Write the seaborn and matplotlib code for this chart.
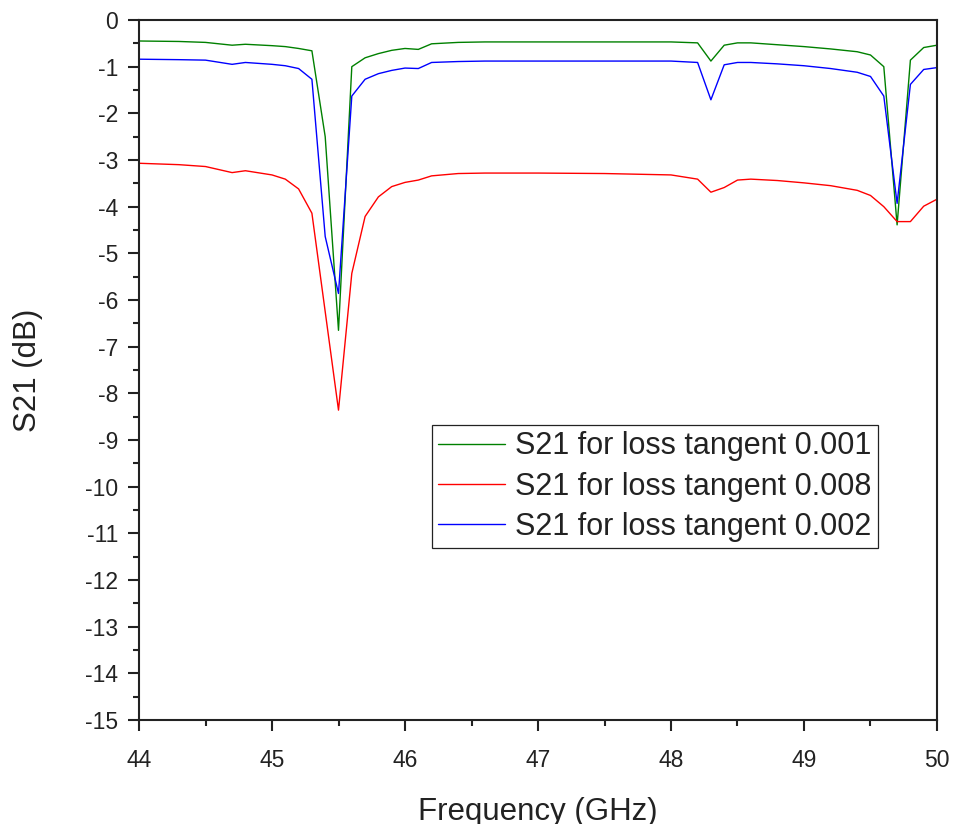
import matplotlib
matplotlib.use("Agg")
import matplotlib.pyplot as plt
from matplotlib.ticker import MultipleLocator
import seaborn as sns

# Frequency sample points (GHz)
freq = [44.0, 44.3, 44.5, 44.7, 44.8, 45.0, 45.1, 45.2, 45.3, 45.4,
        45.5, 45.6, 45.7, 45.8, 45.9, 46.0, 46.1, 46.2, 46.4, 46.6,
        47.0, 47.5, 48.0, 48.2, 48.3, 48.4, 48.5, 48.6, 48.8, 49.0,
        49.2, 49.4, 49.5, 49.6, 49.7, 49.8, 49.9, 50.0]

# S21 (dB) for each dielectric loss tangent
s21_tan_0001 = [-0.45, -0.46, -0.48, -0.54, -0.52, -0.55, -0.57, -0.61, -0.66, -2.50,
                -6.65, -1.00, -0.81, -0.72, -0.65, -0.61, -0.63, -0.51, -0.48, -0.47,
                -0.47, -0.47, -0.47, -0.49, -0.88, -0.54, -0.49, -0.49, -0.53, -0.57,
                -0.62, -0.68, -0.75, -1.00, -4.39, -0.86, -0.59, -0.54]

s21_tan_0008 = [-3.07, -3.10, -3.14, -3.27, -3.23, -3.32, -3.41, -3.62, -4.14, -6.25,
                -8.36, -5.43, -4.21, -3.79, -3.57, -3.48, -3.43, -3.34, -3.29, -3.28,
                -3.28, -3.29, -3.32, -3.41, -3.69, -3.59, -3.43, -3.41, -3.44, -3.49,
                -3.55, -3.65, -3.76, -4.00, -4.32, -4.32, -3.99, -3.84]

s21_tan_0002 = [-0.84, -0.85, -0.86, -0.95, -0.91, -0.95, -0.98, -1.04, -1.27, -4.64,
                -5.86, -1.63, -1.27, -1.15, -1.08, -1.03, -1.04, -0.91, -0.89, -0.88,
                -0.88, -0.88, -0.88, -0.91, -1.71, -0.96, -0.91, -0.91, -0.94, -0.98,
                -1.04, -1.12, -1.21, -1.63, -3.93, -1.38, -1.06, -1.02]

series = [
    ("S21 for loss tangent 0.001", s21_tan_0001, "#008000"),
    ("S21 for loss tangent 0.008", s21_tan_0008, "#ff0000"),
    ("S21 for loss tangent 0.002", s21_tan_0002, "#0000ff"),
]

sns.set_theme(style="ticks")
plt.rcParams["font.family"] = ["Liberation Sans", "DejaVu Sans"]
plt.rcParams["axes.unicode_minus"] = False

fig = plt.figure(figsize=(9.54, 8.24), dpi=100)
ax = fig.add_axes([139 / 954, 1 - 720 / 824, 798 / 954, 700 / 824])

for label, vals, color in series:
    sns.lineplot(x=freq, y=vals, ax=ax, color=color, label=label,
                 linewidth=1.0, sort=False)

ax.set_xlim(44, 50)
ax.set_ylim(-15, 0)
ax.xaxis.set_major_locator(MultipleLocator(1))
ax.xaxis.set_minor_locator(MultipleLocator(0.5))
ax.yaxis.set_major_locator(MultipleLocator(1))
ax.yaxis.set_minor_locator(MultipleLocator(0.5))

for side in ["left", "bottom", "top", "right"]:
    ax.spines[side].set_visible(True)
    ax.spines[side].set_linewidth(1.5)
    ax.spines[side].set_color("#222222")

ax.tick_params(axis="both", which="major", direction="out", length=8,
               width=1.5, color="#222222", labelsize=16.5, labelcolor="#222222")
ax.tick_params(axis="both", which="minor", direction="out", length=4.5,
               width=1.5, color="#222222")
ax.tick_params(axis="x", which="major", pad=13)
ax.tick_params(axis="y", which="major", pad=7)

ax.set_xlabel("Frequency (GHz)", fontsize=22.5, color="#222222", labelpad=18)
ax.set_ylabel("S21 (dB)", fontsize=22.5, color="#222222", labelpad=30)

leg = ax.legend(loc="upper left", bbox_to_anchor=(0.367, 0.421), fontsize=22,
                frameon=True, fancybox=False, shadow=False, framealpha=1.0,
                borderpad=0.2, handlelength=2.2, handletextpad=0.33,
                labelspacing=0.34, borderaxespad=0.0)
leg.get_frame().set_edgecolor("#222222")
leg.get_frame().set_linewidth(0.9)
for t in leg.get_texts():
    t.set_color("#222222")

fig.savefig("out.png", dpi=100, facecolor="white")
